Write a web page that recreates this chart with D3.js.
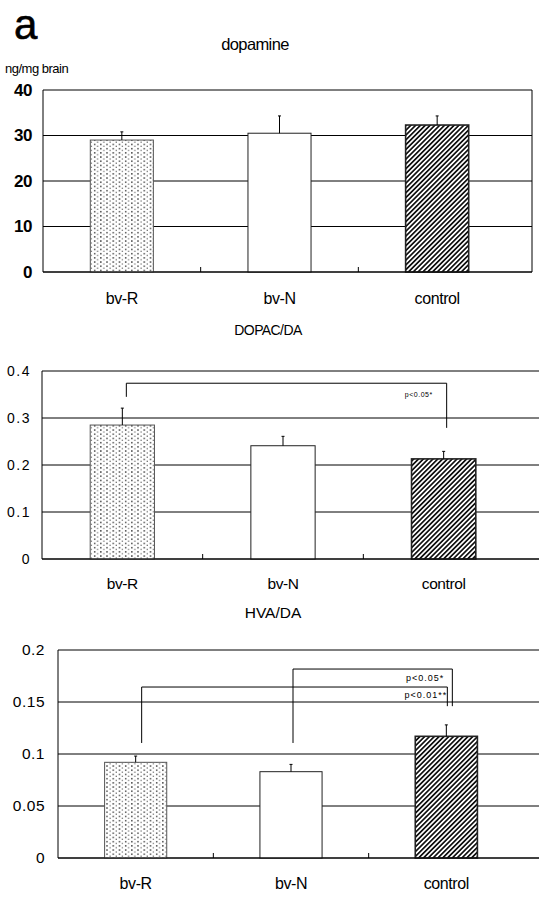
<!DOCTYPE html>
<html><head><meta charset="utf-8">
<script src="https://cdn.jsdelivr.net/npm/d3@7/dist/d3.min.js"></script>
<style>body{margin:0;background:#fff}svg{display:block}text{font-family:Arial,"Liberation Sans",sans-serif;fill:#000}</style>
</head><body>
<svg id="c" width="539" height="899"></svg>
<script>
const categories = ["bv-R", "bv-N", "control"];
const daMeans = [29.0, 30.5, 32.3];
const daErrors = [1.8, 3.8, 2.0];
const daTicks = [0, 10, 20, 30, 40];
const dopacMeans = [0.285, 0.241, 0.213];
const dopacErrors = [0.036, 0.020, 0.016];
const dopacTicks = [0, 0.1, 0.2, 0.3, 0.4];
const dopacTickLabels = ["0", "0.1", "0.2", "0.3", "0.4"];
const hvaMeans = [0.092, 0.083, 0.117];
const hvaErrors = [0.006, 0.007, 0.011];
const hvaTicks = [0, 0.05, 0.1, 0.15, 0.2];
const hvaTickLabels = ["0", "0.05", "0.1", "0.15", "0.2"];
const dopacSig = [{from: "bv-R", to: "control", level: 0.374, leftEnd: 0.345, rightEnd: 0.279, label: "p<0.05*"}];
const hvaSig = [
  {from: "bv-N", to: "control", level: 0.1817, leftEnd: 0.1106, rightEnd: 0.146, label: "p<0.05*"},
  {from: "bv-R", to: "control", level: 0.1644, leftEnd: 0.1106, rightEnd: 0.146, label: "p<0.01**"}
];

const svg = d3.select("#c");
const defs = svg.append("defs");
// stipple pattern
const dots = defs.append("pattern").attr("id","dots").attr("patternUnits","userSpaceOnUse")
  .attr("width",6.2).attr("height",4.2);
dots.append("rect").attr("width",6.2).attr("height",4.2).attr("fill","#fff");
dots.append("rect").attr("x",1).attr("y",1).attr("width",1.3).attr("height",1.3).attr("fill","#111");
dots.append("rect").attr("x",4.1).attr("y",3).attr("width",1.1).attr("height",1.1).attr("fill","#444");
// hatch pattern
const hatch = defs.append("pattern").attr("id","hatch").attr("patternUnits","userSpaceOnUse")
  .attr("width",3.4).attr("height",3.4).attr("patternTransform","rotate(45)");
hatch.append("rect").attr("width",3.4).attr("height",3.4).attr("fill","#fff");
hatch.append("line").attr("x1",1.7).attr("y1",0).attr("x2",1.7).attr("y2",3.4).attr("stroke","#111").attr("stroke-width",1.7);
const fills = ["url(#dots)", "#fff", "url(#hatch)"];

svg.append("text").attr("x",14).attr("y",39).attr("font-size",42).attr("stroke","#000").attr("stroke-width",0.6).text("a");
svg.append("text").attr("x",5).attr("y",73).attr("font-size",13).attr("letter-spacing",-0.5).text("ng/mg brain");

function panel(o) {
  const x = d3.scaleBand().domain(categories).range([o.left, o.right]).padding(0);
  const y = d3.scaleLinear().domain([0, o.max]).range([o.bottom, o.top]);
  const g = svg.append("g");
  const bw = x.bandwidth() * 0.4;
  const cx = c => x(c) + x.bandwidth() / 2;
  // title
  g.append("text").attr("x", o.titleX).attr("y", o.titleY).attr("text-anchor","middle")
    .attr("font-size", o.titleSize).attr("letter-spacing", o.titleLs).text(o.title);
  // gridlines
  g.selectAll("line.grid").data(o.ticks).join("line").attr("class","grid")
    .attr("x1", o.left).attr("x2", o.gridRight).attr("y1", d => y(d)).attr("y2", d => y(d))
    .attr("stroke", "#000").attr("stroke-width", 1);
  // axis labels
  const ax = d3.axisLeft(y).tickValues(o.ticks).tickSize(0).tickPadding(0)
    .tickFormat((d,i) => o.tickLabels[i]);
  const axg = g.append("g").attr("transform", `translate(${o.labelX},0)`).call(ax);
  axg.select(".domain").remove();
  axg.selectAll("text").attr("font-size", o.tickSize).attr("font-weight", o.tickWeight)
    .attr("letter-spacing", o.tickLs)
    .attr("font-family","Arial, 'Liberation Sans', sans-serif").attr("fill","#000");
  // frame
  g.append("line").attr("x1",o.left).attr("x2",o.left).attr("y1",o.top).attr("y2",o.bottom).attr("stroke","#000");
  if (o.frameRight) g.append("line").attr("x1",o.gridRight).attr("x2",o.gridRight).attr("y1",o.top).attr("y2",o.bottom).attr("stroke","#000");
  // bars
  g.selectAll("rect.bar").data(o.means).join("rect").attr("class","bar")
    .attr("x", (d,i) => cx(categories[i]) - bw/2).attr("width", bw)
    .attr("y", d => y(d)).attr("height", d => y(0) - y(d))
    .attr("fill", (d,i) => fills[i]).attr("stroke", (d,i) => i===0 ? "#555" : "#222").attr("stroke-width", (d,i)=> i===2?1.6:1);
  // error bars
  g.selectAll("line.err").data(o.means).join("line").attr("class","err")
    .attr("x1", (d,i) => cx(categories[i])).attr("x2", (d,i) => cx(categories[i]))
    .attr("y1", d => y(d)).attr("y2", (d,i) => y(d + o.errors[i])).attr("stroke","#000");
  g.selectAll("line.cap").data(o.means).join("line").attr("class","cap")
    .attr("x1", (d,i) => cx(categories[i]) - 1.5).attr("x2", (d,i) => cx(categories[i]) + 1.5)
    .attr("y1", (d,i) => y(d + o.errors[i])).attr("y2", (d,i) => y(d + o.errors[i])).attr("stroke","#000");
  // baseline and inner ticks
  g.append("line").attr("x1",o.left).attr("x2",o.gridRight).attr("y1",y(0)).attr("y2",y(0)).attr("stroke","#000");
  g.selectAll("line.itick").data(categories.slice(1)).join("line").attr("class","itick")
    .attr("x1", d => x(d)).attr("x2", d => x(d)).attr("y1", y(0)).attr("y2", y(0) - 5).attr("stroke","#000");
  // category labels
  g.selectAll("text.cat").data(categories).join("text").attr("class","cat")
    .attr("x", d => cx(d)).attr("y", o.catY).attr("text-anchor","middle")
    .attr("font-size", o.catSize).attr("letter-spacing",-0.4).text(d => d);
  // significance brackets
  (o.sig || []).forEach(s => {
    const x1 = cx(s.from) + (s.dxL || 0), x2 = cx(s.to) + (s.dxR || 0);
    g.append("path").attr("fill","none").attr("stroke","#000").attr("stroke-width",1)
      .attr("d", `M${x1},${y(s.leftEnd)}V${y(s.level)}H${x2}V${y(s.rightEnd)}`);
    g.append("text").attr("x", x2 + s.tx).attr("y", y(s.level) + s.ty).attr("text-anchor","end")
      .attr("font-size", o.sigSize).attr("letter-spacing", o.sigLs).text(s.label);
  });
}

panel({title:"dopamine", titleX:255, titleY:50, titleSize:16.5, titleLs:-0.6, left:43, right:516, gridRight:532, frameRight:true,
  top:90, bottom:272, max:40, ticks:daTicks, tickLabels:daTicks.map(String), labelX:32, tickSize:17, tickWeight:"bold", tickLs:-0.5,
  means:daMeans, errors:daErrors, catY:304, catSize:16});
panel({title:"DOPAC/DA", titleX:268, titleY:335, titleSize:14, titleLs:-0.6, left:42, right:524, gridRight:539, frameRight:false,
  top:371, bottom:559, max:0.4, ticks:dopacTicks, tickLabels:dopacTickLabels, labelX:31, tickSize:14, tickWeight:"normal", tickLs:1.5,
  means:dopacMeans, errors:dopacErrors, catY:589, catSize:15.5,
  sig:dopacSig.map(s => Object.assign({dxL:4, dxR:3, tx:-14, ty:14}, s)), sigSize:7, sigLs:0.5});
panel({title:"HVA/DA", titleX:273, titleY:618, titleSize:15.5, titleLs:0, left:58, right:524, gridRight:539, frameRight:false,
  top:650, bottom:858, max:0.2, ticks:hvaTicks, tickLabels:hvaTickLabels, labelX:45, tickSize:15.5, tickWeight:"normal", tickLs:0.5,
  means:hvaMeans, errors:hvaErrors, catY:889, catSize:16,
  sig:hvaSig.map((s,i) => Object.assign(i===0 ? {dxL:2, dxR:6, tx:-8, ty:12} : {dxL:6, dxR:1, tx:0, ty:11}, s)), sigSize:9, sigLs:1});
</script>
</body></html>
